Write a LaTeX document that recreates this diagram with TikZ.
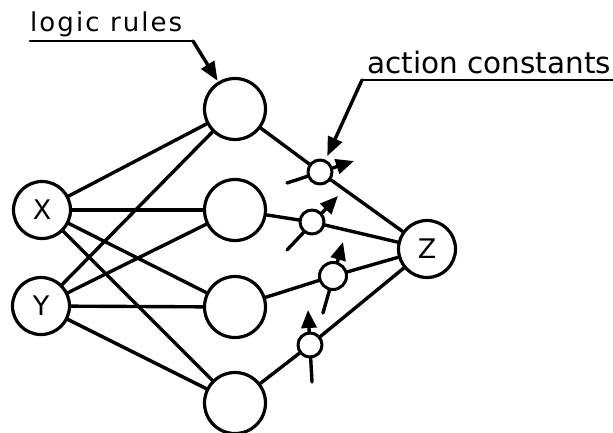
\documentclass[tikz,border=0pt]{standalone}
\usepackage{fontspec}
\setmainfont{DejaVu Sans}
\newfontfamily\spacedfont[LetterSpace=8]{DejaVu Sans}
\usetikzlibrary{arrows.meta}
\begin{document}
\begin{tikzpicture}[x=1pt,y=-1pt,
  line cap=round, line join=round,
  unit/.style={circle, draw, line width=3.2pt, fill=white, inner sep=0pt,
               font=\fontsize{27}{27}\selectfont},
  io/.style={unit, minimum size=57pt},
  rule/.style={unit, minimum size=61pt},
  const/.style={circle, draw, line width=3pt, fill=white, inner sep=0pt, minimum size=24pt},
  wire/.style={line width=3.4pt},
  adjust/.style={line width=3.4pt, -{Triangle[length=18pt,width=15pt]}},
  pointer/.style={line width=3.4pt, -{Triangle[length=19pt,width=15pt]}},
  rulebar/.style={line width=2.6pt}
]
\useasboundingbox (0,0) rectangle (613,432);

% tuning knobs through the action-constant units
\coordinate (a1) at (287,183); \coordinate (b1) at (354,161);
\coordinate (a2) at (287,250); \coordinate (b2) at (338,196);
\coordinate (a3) at (323,313); \coordinate (b3) at (343,242);
\coordinate (a4) at (312,382); \coordinate (b4) at (308,310);
\foreach \i in {1,...,4} \draw[adjust] (a\i) -- (b\i);

% input units
\node[io] (X) at (42,210) {X};
\node[io] (Y) at (41,306) {Y};
% rule layer
\node[rule] (H1) at (235,109) {};
\node[rule] (H2) at (235,210) {};
\node[rule] (H3) at (235,307) {};
\node[rule] (H4) at (235,403) {};
% output unit
\node[io] (Z) at (427,249) {Z};
% action constants
\node[const] (S1) at (320,172) {};
\node[const] (S2) at (312,222) {};
\node[const, minimum size=27pt] (S3) at (333,276) {};
\node[const] (S4) at (310,345) {};

% input to rule connections
\foreach \s in {X,Y}
  \foreach \h in {H1,H2,H3,H4}
    \draw[wire] (\s) -- (\h);
% rules through constants to output
\foreach \i in {1,...,4} {
  \draw[wire] (H\i) -- (S\i);
  \draw[wire] (S\i) -- (Z);
}

% labels
\node[anchor=base west, inner sep=0pt, font=\spacedfont\fontsize{26}{26}\selectfont]
  (lr) at (30,31) {logic rules};
\coordinate (lrL) at (30,41);
\coordinate (lrR) at (193,41);
\draw[rulebar] (lrL) -- (lrR);
\draw[pointer, shorten >=1pt] (lrR) -- (H1);

\node[anchor=base west, inner sep=0pt, font=\fontsize{29.5}{29.5}\selectfont]
  (ac) at (367,73) {action constants};
\coordinate (acL) at (362,80);
\coordinate (acR) at (613,80);
\draw[rulebar] (acL) -- (acR);
\draw[pointer, shorten >=4pt] (acL) -- (S1);
\end{tikzpicture}
\end{document}
